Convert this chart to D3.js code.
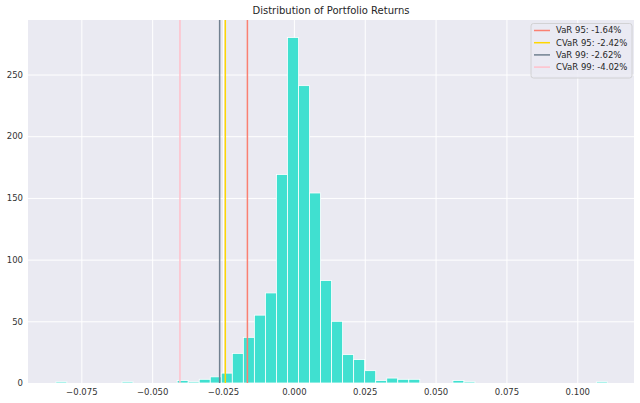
<!DOCTYPE html>
<html><head><meta charset="utf-8">
<script src="https://cdn.jsdelivr.net/npm/d3@7"></script>
<style>body{margin:0;background:#fff}svg{display:block}text{font-family:"DejaVu Sans",sans-serif}</style>
</head><body><svg id="c" width="640" height="403"></svg>
<script>
// ---- data ----
const binMin = -0.0840, binMax = 0.1106;
const counts = [1,0,0,0,0,0,1,0,0,0, 0,2,1,3,5,8,24,37,55,73, 169,280,241,154,83,50,23,19,10,2, 4,3,3,0,0,0,2,1,0,0, 0,0,0,0,0,0,0,0,0,1];
const riskLabels = ["VaR 95: -1.64%","CVaR 95: -2.42%","VaR 99: -2.62%","CVaR 99: -4.02%"];
const riskValues = [-0.0164,-0.0242,-0.0262,-0.0402];
const riskColors = ["#fa8072","#ffd700","#708090","#ffc0cb"];
const xTicks = [-0.075,-0.05,-0.025,0,0.025,0.05,0.075,0.1];
const yTicks = [0,50,100,150,200,250];
const title = "Distribution of Portfolio Returns";

const svg = d3.select("#c");
const L=28,R=634,T=20,B=383;
const x = d3.scaleLinear().domain([-0.09382,0.12001]).range([L,R]);
const y = d3.scaleLinear().domain([0,294.2]).range([B,T]);
const bw = (binMax-binMin)/counts.length;
const bins = counts.map((c,i)=>({x0:binMin+i*bw,x1:binMin+(i+1)*bw,c}));

svg.append("rect").attr("x",L).attr("y",T).attr("width",R-L).attr("height",B-T).attr("fill","#eaeaf2");
const fmt = d3.format(".3f");
const gx = svg.append("g").attr("transform",`translate(0,${B})`)
  .call(d3.axisBottom(x).tickValues(xTicks).tickFormat(d=>fmt(d).replace("-","\u2212")).tickSize(-(B-T)).tickPadding(6));
const gy = svg.append("g").attr("transform",`translate(${L},0)`)
  .call(d3.axisLeft(y).tickValues(yTicks).tickSize(-(R-L)).tickPadding(5));
[gx,gy].forEach(g=>{
  g.select(".domain").remove();
  g.selectAll(".tick line").attr("stroke","#fff").attr("stroke-width",1);
  g.selectAll(".tick text").attr("fill","#333").attr("font-size","8.5px").attr("font-family","DejaVu Sans");
});

svg.append("g").selectAll("rect").data(bins.filter(b=>b.c>0)).join("rect")
  .attr("x",d=>x(d.x0)).attr("width",d=>x(d.x1)-x(d.x0))
  .attr("y",d=>y(d.c)).attr("height",d=>y(0)-y(d.c))
  .attr("fill","#40e0d0").attr("stroke","#fff").attr("stroke-width",0.8);

svg.append("g").selectAll("line").data(riskValues).join("line")
  .attr("x1",d=>x(d)).attr("x2",d=>x(d)).attr("y1",T).attr("y2",B)
  .attr("stroke",(d,i)=>riskColors[i]).attr("stroke-width",1.5);

svg.append("text").attr("x",(L+R)/2).attr("y",14).attr("text-anchor","middle")
  .attr("font-size","10px").attr("fill","#262626").text(title);

const lg = svg.append("g");
lg.append("rect").attr("x",531).attr("y",23.5).attr("width",101).attr("height",54.5).attr("rx",2.5)
  .attr("fill","#eaeaf2").attr("fill-opacity",0.8).attr("stroke","#cccccc").attr("stroke-width",0.8);
riskLabels.forEach((t,i)=>{
  const yy = 30.5 + i*12.2;
  lg.append("line").attr("x1",534).attr("x2",550).attr("y1",yy).attr("y2",yy)
    .attr("stroke",riskColors[i]).attr("stroke-width",1.5);
  lg.append("text").attr("x",556).attr("y",yy).attr("dy","0.35em").attr("font-size","8.5px")
    .attr("fill","#262626").text(t);
});
</script></body></html>
